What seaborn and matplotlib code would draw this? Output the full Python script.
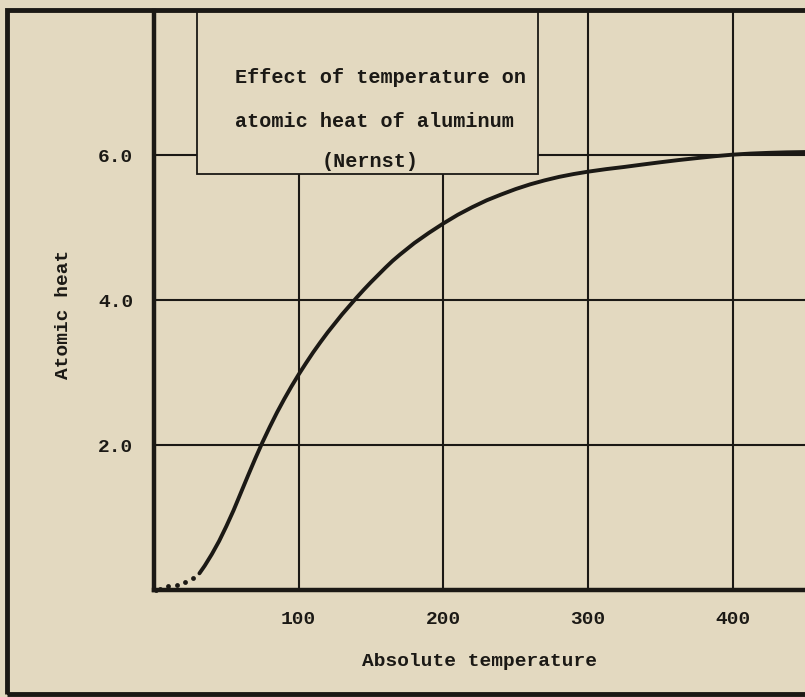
import matplotlib
matplotlib.use("Agg")
import matplotlib.pyplot as plt
from matplotlib.patches import Rectangle
import seaborn as sns
import pandas as pd

# ---- data ----
temp_solid = [31.4, 35, 40, 45, 50, 55, 60, 65, 70, 75, 80, 85, 90, 95, 100, 105,
              110, 115, 120, 125, 130, 135, 140, 145, 150, 155, 160, 165, 170, 175,
              180, 185, 190, 195, 200, 210, 220, 230, 240, 250, 260, 270, 280, 290,
              300, 312.5, 325, 337.5, 350, 362.5, 375, 387.5, 400, 412.5, 425,
              437.5, 450]
heat_solid = [0.23, 0.333, 0.495, 0.675, 0.88, 1.10, 1.34, 1.58, 1.815, 2.04, 2.25,
              2.45, 2.635, 2.81, 2.975, 3.13, 3.28, 3.42, 3.555, 3.68, 3.805, 3.92,
              4.035, 4.145, 4.25, 4.35, 4.45, 4.545, 4.63, 4.71, 4.79, 4.86, 4.93,
              4.995, 5.06, 5.18, 5.285, 5.38, 5.46, 5.535, 5.60, 5.655, 5.703, 5.742,
              5.775, 5.81, 5.84, 5.873, 5.905, 5.935, 5.962, 5.988, 6.01, 6.025,
              6.035, 6.042, 6.046]
temp_dots = [1.5, 4.2, 10.0, 15.7, 21.5, 26.8]
heat_dots = [0.0, 0.02, 0.05, 0.07, 0.11, 0.16]

x_ticks = [100, 200, 300, 400]
x_tick_labels = ["100", "200", "300", "400"]
y_ticks = [2, 4, 6]
y_tick_labels = ["2.0", "4.0", "6.0"]

title_lines = ["Effect of temperature on", "atomic heat of aluminum", "(Nernst)"]
x_label = "Absolute temperature"
y_label = "Atomic heat"

paper = "#e3d9c0"
ink = "#1b1915"

plt.rcParams["font.family"] = ["Liberation Mono", "DejaVu Sans Mono"]
plt.rcParams["font.weight"] = "bold"

W, H = 805, 697
fig = plt.figure(figsize=(W / 100, H / 100), dpi=100, facecolor=paper)
ax_left, ax_right, ax_bottom, ax_top = 154, 805, 590, 10.5
ax = fig.add_axes([ax_left / W, (H - ax_bottom) / H,
                   (ax_right - ax_left) / W, (ax_bottom - ax_top) / H])
ax.set_facecolor(paper)

df_solid = pd.DataFrame({"T": temp_solid, "C": heat_solid})
df_dots = pd.DataFrame({"T": temp_dots, "C": heat_dots})

sns.lineplot(data=df_solid, x="T", y="C", ax=ax, color=ink, lw=2.8,
             sort=False, zorder=4, solid_joinstyle="round",
             solid_capstyle="round")
sns.scatterplot(data=df_dots, x="T", y="C", ax=ax, color=ink, s=12,
                edgecolor=ink, linewidth=0, zorder=4, clip_on=False)

ax.set_xlim(0, 450)
ax.set_ylim(0, 8)
ax.set_xticks(x_ticks)
ax.set_xticklabels(x_tick_labels)
ax.set_yticks(y_ticks)
ax.set_yticklabels(y_tick_labels)
ax.tick_params(axis="both", length=0, labelsize=14, colors=ink)
ax.tick_params(axis="x", pad=15)
ax.tick_params(axis="y", pad=15)
for lab in ax.get_xticklabels() + ax.get_yticklabels():
    lab.set_fontweight("bold")

ax.grid(True, color=ink, lw=1.5)
ax.set_axisbelow(True)

for side in ["top", "right"]:
    ax.spines[side].set_visible(False)
for side in ["left", "bottom"]:
    ax.spines[side].set_color(ink)
    ax.spines[side].set_linewidth(3.2)
    ax.spines[side].set_zorder(5)

ax.set_xlabel(x_label, fontsize=14, fontweight="bold", color=ink, va="center")
ax.xaxis.set_label_coords(0.5, -(662 - 590) / (ax_bottom - ax_top))
ax.set_ylabel(y_label, fontsize=14, fontweight="bold", color=ink, va="center")
ax.yaxis.set_label_coords(-(154 - 63) / (ax_right - ax_left),
                          (590 - 314) / (ax_bottom - ax_top))

# title box (covers gridlines)
sx = 1.4475
sy = 72.4
bx0 = (197 - 154) / sx
bx1 = (538.5 - 154) / sx
by0 = (590 - 174) / sy
ax.add_patch(Rectangle((bx0, by0), bx1 - bx0, 8.0 - by0, facecolor=paper,
                       edgecolor=ink, lw=1.3, zorder=3, clip_on=False))
ax.text((235 - 154) / sx, (590 - 78) / sy, title_lines[0], fontsize=14.5,
        fontweight="bold", color=ink, ha="left", va="center", zorder=6)
ax.text((235 - 154) / sx, (590 - 122) / sy, title_lines[1], fontsize=14.5,
        fontweight="bold", color=ink, ha="left", va="center", zorder=6)
ax.text((322 - 154) / sx, (590 - 161.5) / sy, title_lines[2], fontsize=14.5,
        fontweight="bold", color=ink, ha="left", va="center", zorder=6)

# outer frame of the printed figure
fig.add_artist(Rectangle((7 / W, (H - 694) / H), 1.2, (694 - 10) / H,
                         transform=fig.transFigure, fill=False,
                         edgecolor=ink, lw=3.5, clip_on=False, zorder=10))

fig.savefig("out.png", dpi=100, facecolor=paper)
